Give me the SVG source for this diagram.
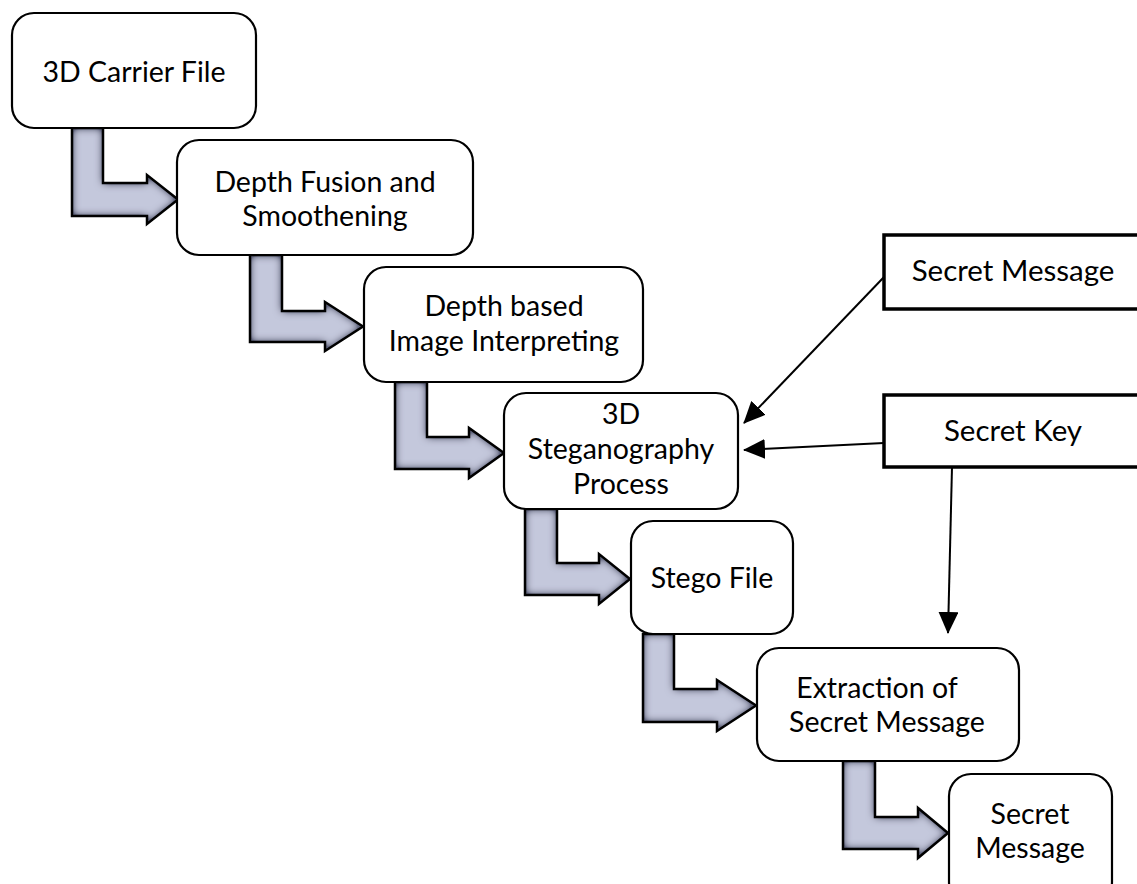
<svg xmlns="http://www.w3.org/2000/svg" width="1137" height="884" viewBox="0 0 1137 884">
  <style>
    .box { fill: #ffffff; stroke: #000000; stroke-width: 2.2; }
    .rect { fill: #ffffff; stroke: #000000; stroke-width: 3.5; }
    .lbl { font-family: "Lato", "Open Sans", "Liberation Sans", sans-serif; font-size: 28.5px; fill: #000000; text-anchor: middle; }
    .big { font-size: 29.5px; }
    .blk { fill: #c4c8dc; filter: url(#shade); }
    .blk-edge { fill: none; stroke: #000000; stroke-width: 2.5; stroke-linejoin: miter; }
    .conn { fill: none; stroke: #000000; stroke-width: 2; marker-end: url(#head); }
  </style>
  <defs>
    <!-- darker shading along the inside edges of the block arrows -->
    <filter id="shade" x="-10%" y="-10%" width="120%" height="120%">
      <feGaussianBlur in="SourceAlpha" stdDeviation="4" result="b"/>
      <feComposite in="SourceAlpha" in2="b" operator="arithmetic" k1="0" k2="2" k3="-2" k4="0" result="edge"/>
      <feFlood flood-color="#62667f" flood-opacity="1"/>
      <feComposite in2="edge" operator="in" result="sh"/>
      <feMerge><feMergeNode in="SourceGraphic"/><feMergeNode in="sh"/></feMerge>
    </filter>
    <marker id="head" markerWidth="22" markerHeight="20" refX="21" refY="10" orient="auto" markerUnits="userSpaceOnUse">
      <path d="M0,0 L22,10 L0,20 Z" fill="#000000"/>
    </marker>
  </defs>

  <!-- block arrows between process steps -->
  <g id="flow-arrows">
    <path class="blk" d="M72,128 L103,128 L103,183 L147,183 L147,175 L178,199.5 L147,224 L147,216 L72,216 Z"/>
    <path class="blk-edge" d="M72,128 L103,128 L103,183 L147,183 L147,175 L178,199.5 L147,224 L147,216 L72,216 Z"/>
    <path class="blk" d="M250,255 L282,255 L282,311 L325,311 L325,302 L363,326.5 L325,351 L325,342 L250,342 Z"/>
    <path class="blk-edge" d="M250,255 L282,255 L282,311 L325,311 L325,302 L363,326.5 L325,351 L325,342 L250,342 Z"/>
    <path class="blk" d="M395,382 L427,382 L427,437 L469,437 L469,428 L504,453 L469,478 L469,469 L395,469 Z"/>
    <path class="blk-edge" d="M395,382 L427,382 L427,437 L469,437 L469,428 L504,453 L469,478 L469,469 L395,469 Z"/>
    <path class="blk" d="M525,509 L557,509 L557,563 L599,563 L599,554 L630,579 L599,604 L599,595 L525,595 Z"/>
    <path class="blk-edge" d="M525,509 L557,509 L557,563 L599,563 L599,554 L630,579 L599,604 L599,595 L525,595 Z"/>
    <path class="blk" d="M643,634 L674,634 L674,689 L717,689 L717,680 L756,705.5 L717,731 L717,722 L643,722 Z"/>
    <path class="blk-edge" d="M643,634 L674,634 L674,689 L717,689 L717,680 L756,705.5 L717,731 L717,722 L643,722 Z"/>
    <path class="blk" d="M843,761 L875,761 L875,817 L918,817 L918,808 L948,833 L918,858 L918,849 L843,849 Z"/>
    <path class="blk-edge" d="M843,761 L875,761 L875,817 L918,817 L918,808 L948,833 L918,858 L918,849 L843,849 Z"/>
  </g>

  <!-- thin connectors from message and key -->
  <g id="connectors">
    <path class="conn" d="M884,277 L744,423"/>
    <path class="conn" d="M884,443 L744,450"/>
    <path class="conn" d="M952,467 L948,633"/>
  </g>

  <g id="carrier">
    <rect class="box" x="12" y="13" width="244" height="115" rx="22"/>
    <text class="lbl" x="134" y="82">3D Carrier File</text>
  </g>
  <g id="fusion">
    <rect class="box" x="177" y="140" width="296" height="115" rx="22"/>
    <text class="lbl" x="325" y="192">Depth Fusion and</text>
    <text class="lbl" x="325" y="226">Smoothening</text>
  </g>
  <g id="interpreting">
    <rect class="box" x="364" y="267" width="279" height="115" rx="22"/>
    <text class="lbl" x="504" y="316">Depth based</text>
    <text class="lbl" x="504" y="351">Image Interpreting</text>
  </g>
  <g id="stegano">
    <rect class="box" x="504" y="393" width="234" height="116" rx="22"/>
    <text class="lbl" x="621" y="424">3D</text>
    <text class="lbl" x="621" y="459">Steganography</text>
    <text class="lbl" x="621" y="494">Process</text>
  </g>
  <g id="stego-file">
    <rect class="box" x="631" y="521" width="162" height="113" rx="22"/>
    <text class="lbl" x="712" y="588">Stego File</text>
  </g>
  <g id="extraction">
    <rect class="box" x="757" y="648" width="262" height="113" rx="22"/>
    <text class="lbl" x="877" y="698">Extraction of</text>
    <text class="lbl" x="887" y="732">Secret Message</text>
  </g>
  <g id="recovered">
    <rect class="box" x="949" y="774" width="163" height="130" rx="22"/>
    <text class="lbl" x="1030" y="824">Secret</text>
    <text class="lbl" x="1030" y="858">Message</text>
  </g>
  <g id="secret-message">
    <rect class="rect" x="884" y="235" width="270" height="74"/>
    <text class="lbl big" x="1013" y="281">Secret Message</text>
  </g>
  <g id="secret-key">
    <rect class="rect" x="884" y="395" width="270" height="72"/>
    <text class="lbl big" x="1013" y="441">Secret Key</text>
  </g>
</svg>
